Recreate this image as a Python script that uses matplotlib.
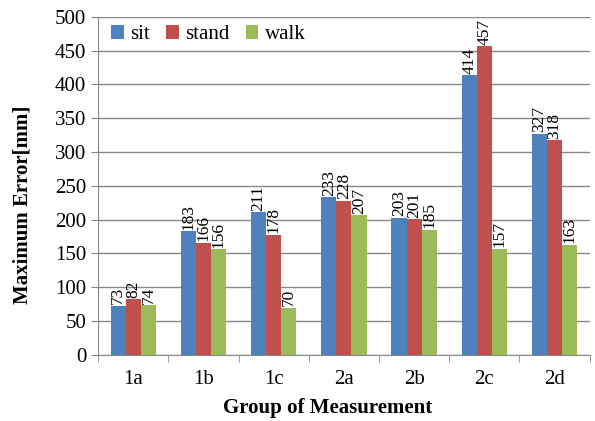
import matplotlib.pyplot as plt
import numpy as np

groups = ['1a', '1b', '1c', '2a', '2b', '2c', '2d']
sit = [73, 183, 211, 233, 203, 414, 327]
stand = [82, 166, 178, 228, 201, 457, 318]
walk = [74, 156, 70, 207, 185, 157, 163]

plt.rcParams['font.family'] = ['Liberation Serif', 'DejaVu Serif']

fig = plt.figure(figsize=(5.95, 4.21), dpi=100)
ax = fig.add_axes([0.165, 0.157, 0.826, 0.803])

x = np.arange(len(groups))
w = 0.215
series = [('sit', sit, '#4F81BD'), ('stand', stand, '#C0504D'), ('walk', walk, '#9BBB59')]
for i, (name, vals, col) in enumerate(series):
    bars = ax.bar(x + (i - 1) * w, vals, w, color=col, label=name, zorder=3)
    for b, v in zip(bars, vals):
        ax.text(b.get_x() + b.get_width() / 2, v + 2, str(v), rotation=90,
                ha='center', va='bottom', fontsize=12.5)

ax.set_xlim(-0.5, len(groups) - 0.5)
ax.set_ylim(0, 500)
ax.set_yticks(range(0, 501, 50))
ax.set_xticks(x)
ax.set_xticklabels(groups)
ax.set_xticks(np.arange(-0.5, len(groups), 1), minor=True)
ax.tick_params(axis='x', which='major', length=0, labelsize=15, pad=11)
ax.tick_params(axis='x', which='minor', length=5, color='#888888')
ax.tick_params(axis='y', length=5, color='#888888', labelsize=15)
ax.yaxis.grid(True, color='#888888', linewidth=1, zorder=0)
for s in ['top', 'right']:
    ax.spines[s].set_visible(False)
for s in ['left', 'bottom']:
    ax.spines[s].set_color('#888888')

ax.set_xlabel('Group of Measurement', fontsize=15, fontweight='bold')
ax.set_ylabel('Maximum Error[mm]', fontsize=15, fontweight='bold')
ax.xaxis.set_label_coords(0.467, -0.128)
ax.yaxis.set_label_coords(-0.134, 0.444)

ax.legend(loc='upper left', ncol=3, frameon=False, fontsize=15, handlelength=0.6,
          handleheight=0.6, handletextpad=0.3, columnspacing=0.8,
          bbox_to_anchor=(-0.012, 1.03))

fig.savefig('out.png', dpi=100)
